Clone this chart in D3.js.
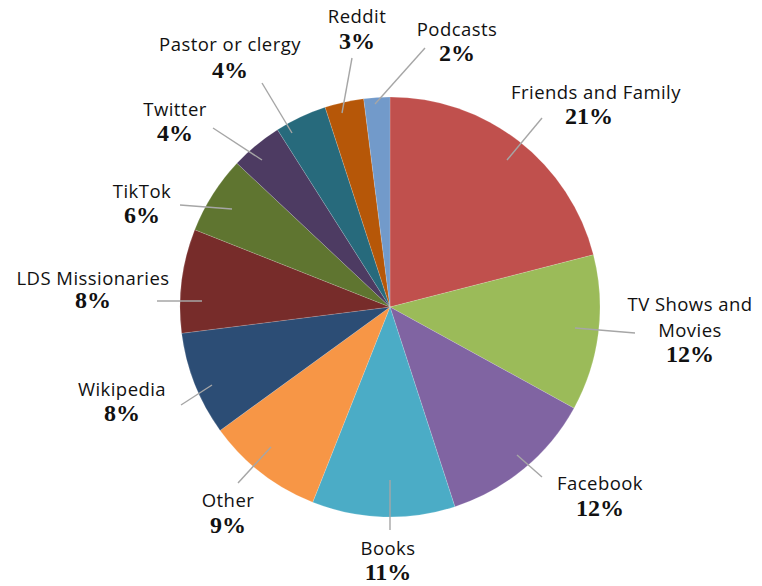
<!DOCTYPE html>
<html><head><meta charset="utf-8">
<script src="https://cdn.jsdelivr.net/npm/d3@7/dist/d3.min.js"></script>
<style>
html,body{margin:0;padding:0;background:#fff;}
svg{display:block;}
.name{font-family:"Open Sans","Noto Sans",sans-serif;font-size:18.5px;letter-spacing:0.45px;fill:#111;}
.pct{font-family:"Liberation Serif","DejaVu Serif",serif;font-weight:bold;font-size:24px;fill:#111;}
</style></head>
<body>
<script>
// Data
const categories = ["Friends and Family","TV Shows and Movies","Facebook","Books","Other","Wikipedia","LDS Missionaries","TikTok","Twitter","Pastor or clergy","Reddit","Podcasts"];
const values = [21,12,12,11,9,8,8,6,4,4,3,2];
const colors = ["#C0504D","#9BBB59","#8064A2","#4BACC6","#F79646","#2C4D75","#772C2A","#5F7530","#4D3B62","#276A7C","#B65708","#729ACA"];

// Layout (label placement, relative to pie center)
const W = 762, H = 586, cx = 390, cy = 307, R = 210;
const labelLayout = [
  {lines:["Friends and Family"], x:206, y:-216, px:199, py:-191, l1:[117,-147], l2:[152,-189]},
  {lines:["TV Shows and","Movies"], x:300, y:-4, px:300, py:47, l1:[185,21], l2:[245,26]},
  {lines:["Facebook"], x:210, y:175, px:210, py:201, l1:[127,148], l2:[152,170]},
  {lines:["Books"], x:-2, y:240, px:-2, py:265, l1:[0,173], l2:[0,223]},
  {lines:["Other"], x:-162, y:192, px:-162, py:218, l1:[-119,140], l2:[-152,176]},
  {lines:["Wikipedia"], x:-268, y:81, px:-268, py:106, l1:[-178,78], l2:[-209,98]},
  {lines:["LDS Missionaries"], x:-297, y:-30, px:-297, py:-7, l1:[-188,-6], l2:[-233,-6]},
  {lines:["TikTok"], x:-248, y:-117, px:-248, py:-92, l1:[-158,-98], l2:[-210,-102]},
  {lines:["Twitter"], x:-215, y:-199, px:-215, py:-174, l1:[-128,-147], l2:[-177,-179]},
  {lines:["Pastor or clergy"], x:-160, y:-264, px:-160, py:-237, l1:[-98,-174], l2:[-128,-224]},
  {lines:["Reddit"], x:-33, y:-292, px:-33, py:-266, l1:[-48,-194], l2:[-38,-249]},
  {lines:["Podcasts"], x:67, y:-279, px:67, py:-254, l1:[-15,-203], l2:[35,-259]}
];

const svg = d3.select("body").append("svg").attr("width",W).attr("height",H);
const g = svg.append("g").attr("transform",`translate(${cx},${cy})`);

const pie = d3.pie().sort(null).value(d=>d.v);
const arcs = pie(categories.map((c,i)=>({c, v:values[i], col:colors[i]})));
const arc = d3.arc().innerRadius(0).outerRadius(R);

g.selectAll("path.slice").data(arcs).join("path")
  .attr("class","slice")
  .attr("d",arc)
  .attr("fill",d=>d.data.col)
  .attr("stroke","#ffffff").attr("stroke-opacity",0.3).attr("stroke-width",0.5);

// leader lines
g.selectAll("line.leader").data(arcs).join("line")
  .attr("class","leader")
  .attr("x1",(d,i)=>labelLayout[i].l1[0]).attr("y1",(d,i)=>labelLayout[i].l1[1])
  .attr("x2",(d,i)=>labelLayout[i].l2[0]).attr("y2",(d,i)=>labelLayout[i].l2[1])
  .attr("stroke","#a6a6a6").attr("stroke-width",1.4);

// labels
const lg = g.selectAll("g.lbl").data(arcs).join("g").attr("class","lbl");
lg.each(function(d,i){
  const L = labelLayout[i];
  const sel = d3.select(this);
  L.lines.forEach((t,k)=>{
    sel.append("text").attr("class","name")
      .attr("x",L.x).attr("y",L.y + k*26)
      .attr("text-anchor","middle").attr("dominant-baseline","central")
      .text(t);
  });
  sel.append("text").attr("class","pct")
    .attr("x",L.px).attr("y",L.py)
    .attr("text-anchor","middle").attr("dominant-baseline","central")
    .text(d3.format("d")(d.data.v)+"%");
});
</script>
</body></html>
